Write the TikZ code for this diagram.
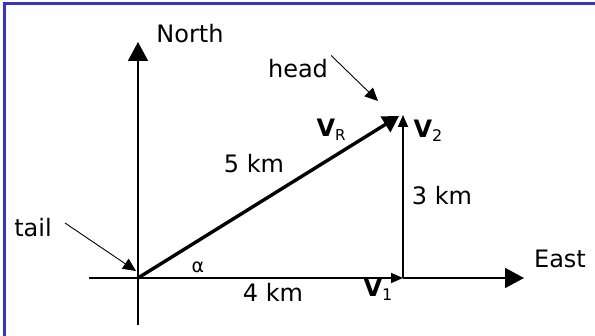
\documentclass[tikz,border=0pt]{standalone}
\usepackage{fontspec}
\setmainfont{DejaVu Sans}
\usetikzlibrary{arrows.meta,positioning,calc}
\definecolor{frameblue}{HTML}{3535C8}

\begin{document}
\begin{tikzpicture}[x=1pt, y=-1pt,
  axis/.style={line width=1.6pt, -{Triangle[length=19pt,width=20pt]}},
  comp/.style={line width=1.6pt, -{Triangle[length=12pt,width=10pt]}},
  res/.style={line width=3.4pt, -{Triangle[length=16pt,width=18pt]}},
  pointer/.style={line width=0.9pt, -{Triangle[length=13pt,width=12pt]}},
  lbl/.style={font=\fontsize{24}{28}\selectfont, inner sep=0pt},
  vlbl/.style={font=\fontsize{24}{28}\selectfont\bfseries, inner sep=0pt},
]
\useasboundingbox (0,0) rectangle (595,336);
\fill[white] (0,0) rectangle (595,336);

%% ---- frame ----
\draw[frameblue, line width=3pt] (4,336) -- (4,4) -- (595,4);

%% ---- points ----
\coordinate (O) at (138,278);
\coordinate (N) at (138,42);
\coordinate (S) at (138,325);
\coordinate (W) at (89,278);
\coordinate (E) at (524,278);
\coordinate (P1) at (403,278);
\coordinate (P2) at (403,115);
\coordinate (tip) at (399,116);

%% ---- axes ----
\draw[line width=1.6pt] (S) -- (O);
\draw[axis] (O) -- (N);
\draw[line width=1.6pt] (W) -- (O);
\draw[axis] (P1) -- (E);

%% ---- components and resultant ----
\draw[comp] (O) -- (P1);
\draw[comp] (P1) -- (P2);
\draw[res] (O) -- (tip);

%% ---- labels ----
\node[lbl] (north) at (190,34) {North};
\node[lbl] (east) at (560,259) {East};
\node[lbl] (tail) at (33,228) {tail};
\node[lbl] (head) at (298,69) {head};
\node[lbl] (rlen) at (254,164) {5 km};
\node[lbl] (xlen) at (273,292) {4 km};
\node[lbl] (ylen) at (442,196) {3 km};
\node[font=\fontsize{19}{19}\selectfont, inner sep=0pt] (alpha) at (198,267) {α};
\node[vlbl] (vr) at (331,130) {V\raisebox{-4pt}{\mdseries\fontsize{15}{15}\selectfont R}};
\node[vlbl] (vtwo) at (428,131) {V\raisebox{-4pt}{\mdseries\fontsize{16}{16}\selectfont 2}};
\node[vlbl] (vone) at (378,290) {V\raisebox{-4pt}{\mdseries\fontsize{16}{16}\selectfont 1}};

%% ---- pointers ----
\coordinate (tailfrom) at (65,223);
\coordinate (tailto) at (136,271);
\coordinate (headto) at (378,101);
\draw[pointer] (tailfrom) -- (tailto);
\draw[pointer] ([shift={(3,-4)}]head.north east) -- (headto);

\end{tikzpicture}
\end{document}
